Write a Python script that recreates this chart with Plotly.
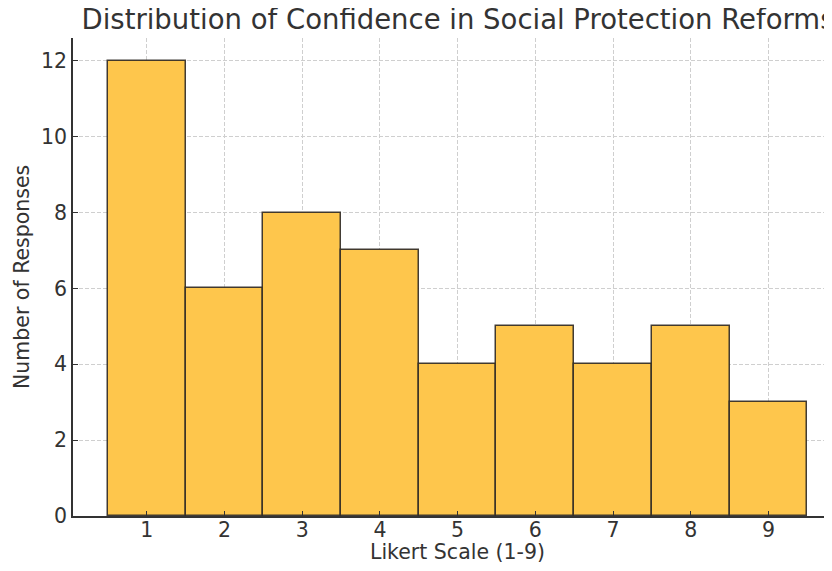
import plotly.graph_objects as go

likert_values = [1, 2, 3, 4, 5, 6, 7, 8, 9]
response_counts = [12, 6, 8, 7, 4, 5, 4, 5, 3]
y_ticks = [0, 2, 4, 6, 8, 10, 12]

# the page body adds an 8px margin on each side; size the figure so it fits
OFF = 8
W, H = 832 - 2 * OFF, 571 - 2 * OFF
FONT = "DejaVu Sans"
TXT = "#333333"

fig = go.Figure()
fig.add_trace(go.Bar(
    x=likert_values,
    y=response_counts,
    width=1,
    marker=dict(color="rgb(254,198,76)",
                line=dict(color="rgba(45,40,35,0.9)", width=1.5)),
    showlegend=False,
))

fig.update_layout(
    width=W, height=H,
    margin=dict(l=73 - OFF, r=0, t=38 - OFF, b=571 - OFF - 516, autoexpand=False),
    plot_bgcolor="white", paper_bgcolor="white",
    font=dict(family=FONT, color=TXT, size=20.5),
    title=dict(text="Distribution of Confidence in Social Protection Reforms",
               font=dict(family=FONT, size=27.5, color=TXT),
               xref="container", x=(458 - OFF) / W, xanchor="center",
               yref="container", y=1 - (19 - OFF) / H, yanchor="middle"),
    bargap=0,
    annotations=[
        dict(text="Likert Scale (1-9)", showarrow=False,
             xref="paper", yref="paper",
             x=(457 - 73) / (W - (73 - OFF)), xanchor="center",
             y=-(552 - 516) / (516 - 38), yanchor="middle",
             font=dict(size=20.5, color=TXT)),
        dict(text="Number of Responses", showarrow=False, textangle=-90,
             xref="paper", yref="paper",
             x=-(73 - 22) / (W - (73 - OFF)), xanchor="center",
             y=(516 - 277) / (516 - 38), yanchor="middle",
             font=dict(size=20.5, color=TXT)),
    ],
)
fig.update_xaxes(
    range=[0.05, 9.715],
    tickmode="array", tickvals=likert_values,
    ticks="inside", ticklen=5, tickwidth=1.2, tickcolor=TXT,
    showline=True, linecolor=TXT, linewidth=1.5,
    showgrid=True, gridcolor="#cfcfcf", gridwidth=1, griddash="4px,2px",
    zeroline=False, layer="above traces",
    tickfont=dict(size=20.5), ticklabelstandoff=-5,
)
fig.update_yaxes(
    range=[0, 12.6],
    tickmode="array", tickvals=y_ticks,
    ticks="inside", ticklen=5, tickwidth=1.2, tickcolor=TXT,
    showline=True, linecolor=TXT, linewidth=1.5,
    showgrid=True, gridcolor="#cfcfcf", gridwidth=1, griddash="4px,2px",
    zeroline=False, layer="above traces",
    tickfont=dict(size=20.5),
)

fig.write_html("out.html")
